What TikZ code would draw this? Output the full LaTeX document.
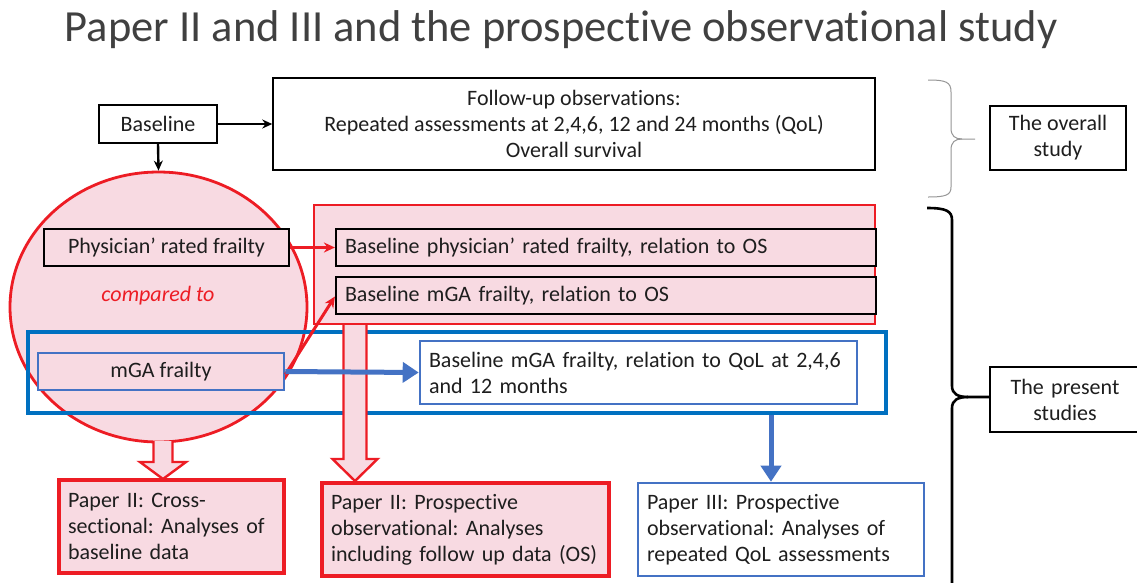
\documentclass[tikz,border=0pt]{standalone}
\usepackage{fontspec}
\setmainfont{Carlito}[Ligatures=NoCommon]
\usetikzlibrary{shapes.geometric,arrows.meta,calc}
\definecolor{myred}{RGB}{237,28,36}
\definecolor{mypink}{RGB}{248,218,226}
\definecolor{myblue}{RGB}{0,112,192}
\definecolor{myblueb}{RGB}{68,114,196}
\definecolor{mytext}{RGB}{30,30,30}
\definecolor{mygray}{RGB}{150,150,150}
\frenchspacing
\tikzset{
  txt/.style={font=\fontsize{22}{26}\selectfont, text=mytext},
  blackbox/.style={txt, draw=black, line width=1.5pt, inner sep=0pt},
  pinkblack/.style={blackbox, fill=mypink, line width=2.2pt},
  redbox/.style={txt, draw=myred, fill=mypink, line width=3.2pt, inner sep=0pt},
  bluebox/.style={txt, draw=myblueb, fill=white, line width=2.6pt, inner sep=0pt},
  blkarrow/.style={-{Stealth[length=10pt,width=9pt]}, line width=2.4pt, draw=black},
  redarrow/.style={-{Stealth[length=11pt,width=10pt]}, line width=3pt, draw=myred},
  bluearrow/.style={-{Triangle[length=16pt,width=20pt]}, line width=5pt, draw=myblueb},
  hollow/.style={draw=myred, fill=mypink, line width=2.4pt, line join=miter},
}
\newcommand\blockarr[6]{% x, ytop, yhead, ytip, half shaft, half head
  \fill[mypink] (#1-#5,#2) -- (#1-#5,#3) -- (#1-#6,#3) -- (#1,#4) -- (#1+#6,#3) -- (#1+#5,#3) -- (#1+#5,#2) -- cycle;
  \draw[hollow, fill=none] (#1-#5,#2) -- (#1-#5,#3) -- (#1-#6,#3) -- (#1,#4) -- (#1+#6,#3) -- (#1+#5,#3) -- (#1+#5,#2);
}
\begin{document}
\begin{tikzpicture}[x=1pt,y=-1pt]
\useasboundingbox (0,0) rectangle (1137,582);
\fill[white] (0,0) rectangle (1137,582);

% title
\node[font=\fontsize{44.5}{50}\selectfont, text=mytext!85!white] (title) at (561,30) {Paper II and III and the prospective observational study};

% big shapes
\node[ellipse, draw=myred, fill=mypink, line width=2.8pt, minimum width=297pt, minimum height=270pt, inner sep=0pt] (circ) at (158.5,307) {};
\node[draw=myred, fill=mypink, line width=2.8pt, minimum width=561pt, minimum height=119pt, inner sep=0pt] (redrect) at (594.5,264.5) {};

% blue frame
\node[draw=myblue, line width=3.2pt, minimum width=858pt, minimum height=81pt, inner sep=0pt] (bluerect) at (457,372.5) {};

% hollow arrows
\blockarr{163}{441}{462}{479}{9.5}{23}
\blockarr{355}{325}{459}{481}{11.5}{22.5}

% top boxes
\node[blackbox, minimum width=118pt, minimum height=38pt] (base) at (158,124) {Baseline};
\node[blackbox, minimum width=602pt, minimum height=92pt, align=center] (fu) at (574,124)
  {Follow-up observations:\\Repeated assessments at 2,4,6, 12 and 24 months (QoL)\\Overall survival};

% circle content
\node[pinkblack, minimum width=245pt, minimum height=37pt] (phys) at (166.5,247.5) {Physician’ rated frailty};
\node[txt, text=myred, font=\fontsize{22}{26}\selectfont\itshape] (comp) at (158,296) {compared to};
\node[txt, draw=myblueb, fill=mypink, line width=2.6pt, minimum width=246pt, minimum height=37pt, inner sep=0pt] (mga) at (161,371.5) {mGA frailty};

% red rect content
\node[pinkblack, minimum height=37pt, text width=522pt, inner xsep=9pt, align=left] (os1) at (606,247.5) {Baseline physician’ rated frailty, relation to OS};
\node[pinkblack, minimum height=37pt, text width=522pt, inner xsep=9pt, align=left] (os2) at (606,295.5) {Baseline mGA frailty, relation to OS};

% blue content
\node[bluebox, minimum height=63pt, text width=419pt, inner xsep=9pt, align=left] (qol) at (638.5,372.5) {Baseline mGA frailty, relation to QoL at 2,4,6\\and 12 months};

% papers
\node[redbox, minimum height=93pt, text width=207pt, inner xsep=9pt, align=left] (p2a) at (171.5,526.5) {Paper II: Cross-\\sectional: Analyses of\\baseline data};
\node[redbox, minimum height=93pt, text width=269pt, inner xsep=9pt, align=left] (p2b) at (465.5,529.5) {Paper II: Prospective\\observational: Analyses\\including follow up data (OS)};
\node[bluebox, minimum height=93pt, text width=268pt, inner xsep=9pt, align=left] (p3) at (781,529.5) {Paper III: Prospective\\observational: Analyses of\\repeated QoL assessments};

% right boxes
\node[blackbox, minimum width=136pt, minimum height=64pt, align=center, line width=1.3pt] (overall) at (1058,138) {The overall\\study};
\node[blackbox, minimum width=150pt, minimum height=65pt, line width=2.2pt, text width=150pt, align=center] (present) at (1065,399.5) {The present\\studies};

% connectors
\draw[blkarrow] (base.east) -- (fu.west);
\draw[blkarrow] (base.south) -- (circ.north);
\draw[redarrow] (phys.east) -- (os1.west);
\draw[redarrow] ($(mga.east)+(0,3)$) -- ($(os2.west)+(0,1)$);
\draw[bluearrow] (mga.east) -- (qol.west);
\coordinate (b3) at (bluerect.south -| 771,0);
\draw[bluearrow] (b3) -- (b3 |- p3.north);

% braces
\draw[mygray, line width=1pt] (928,80) .. controls (946,80) and (951,82) .. (951,92) -- (951,128)
  .. controls (951,136) and (955,139) .. (962,139) -- (975,139);
\draw[mygray, line width=1pt] (962,139) .. controls (955,139) and (951,142) .. (951,150) -- (951,187)
  .. controls (951,195) and (946,197) .. (928,197);
\draw[black, line width=2.6pt] (927,208) .. controls (946,208) and (952,211) .. (952,220) -- (952,386)
  .. controls (952,394) and (958,397) .. (968,397) -- (present.west |- 0,397);
\draw[black, line width=2.6pt] (968,397) .. controls (958,397) and (952,400) .. (952,408) -- (952,590);
\end{tikzpicture}
\end{document}
